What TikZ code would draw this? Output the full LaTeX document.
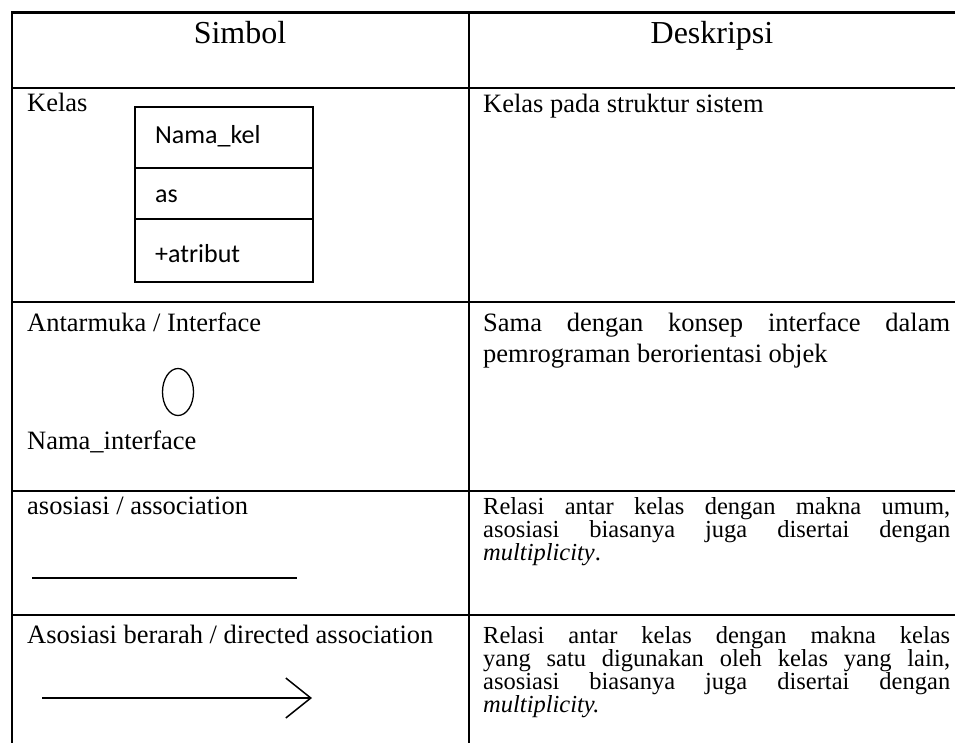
\documentclass[tikz,border=0pt]{standalone}
\usepackage{fontspec}
\setmainfont{Liberation Serif}
\newfontfamily\boxfont{Carlito}
\usetikzlibrary{arrows.meta}

\tikzset{
  rule/.style={line width=2.6pt, line cap=rect},
  headtext/.style={anchor=base, inner sep=0, font=\fontsize{32}{36}\selectfont},
  celltext/.style={anchor=base west, inner sep=0, font=\fontsize{26.5}{30}\selectfont},
  desc/.style={celltext},
  smalldesc/.style={anchor=base west, inner sep=0, font=\fontsize{24.5}{28}\selectfont},
  classcell/.style={draw, line width=1.5pt, anchor=north west, minimum width=178pt, inner sep=0},
  classtext/.style={anchor=base west, inner sep=0, font=\boxfont\fontsize{26}{30}\selectfont},
  symline/.style={line width=1.6pt},
}
\newcommand{\jline}[1]{\makebox[467pt][s]{#1}}

\begin{document}
\begin{tikzpicture}[x=1pt, y=-1pt]
  \useasboundingbox (0,0) rectangle (955,742);

  % table grid
  \draw[rule] (955,12.5) -- (12,12.5) -- (12,742);
  \draw[rule, line width=2.2pt] (469,12.5) -- (469,742);
  \draw[rule] (12,88) -- (955,88);
  \draw[rule] (12,302) -- (955,302);
  \draw[rule] (12,491) -- (955,491);
  \draw[rule, line width=2.2pt] (12,615) -- (955,615);

  % header
  \node[headtext] (hsym) at (240,43) {Simbol};
  \node[headtext] (hdesc) at (712,43) {Deskripsi};

  % row: class
  \node[celltext] (kelas) at (27,111) {Kelas};
  \node[classcell, minimum height=61pt] (cname) at (134,106) {};
  \node[classcell, minimum height=51pt] (cattr) at (134,167) {};
  \node[classcell, minimum height=63pt] (cop) at (134,218) {};
  \node[classtext] (tname) at (155,143) {Nama\_kel};
  \node[classtext] (tattr) at (155,202) {as};
  \node[classtext] (top) at (155,262) {+atribut};
  \node[desc] (d1) at (483,112) {Kelas pada struktur sistem};

  % row: interface
  \node[celltext] (intf) at (27,331) {Antarmuka / Interface};
  \draw[line width=1.3pt] (178,392) ellipse [x radius=15.5, y radius=23.5];
  \node[celltext] (intfname) at (27,449) {Nama\_interface};
  \node[desc] (d2a) at (483,331) {\jline{Sama dengan konsep interface dalam}};
  \node[desc] (d2b) at (483,362) {pemrograman berorientasi objek};

  % row: association
  \node[celltext] (asc) at (27,514) {asosiasi / association};
  \coordinate (ascA) at (32,578);
  \coordinate (ascB) at (297,578);
  \draw[symline] (ascA) -- (ascB);
  \node[smalldesc] (d3a) at (483,514) {\jline{Relasi antar kelas dengan makna umum,}};
  \node[smalldesc] (d3b) at (483,537) {\jline{asosiasi biasanya juga disertai dengan}};
  \node[smalldesc] (d3c) at (483,560) {\textit{multiplicity}.};

  % row: directed association
  \node[celltext] (dasc) at (27,643) {Asosiasi berarah / directed association};
  \coordinate (dascA) at (42,698);
  \coordinate (dascB) at (312,698);
  \draw[symline, -{Straight Barb[length=25pt, width=40pt, line width=1.5pt]}] (dascA) -- (dascB);
  \node[smalldesc] (d4a) at (483,643) {\jline{Relasi antar kelas dengan makna kelas}};
  \node[smalldesc] (d4b) at (483,666) {\jline{yang satu digunakan oleh kelas yang lain,}};
  \node[smalldesc] (d4c) at (483,689) {\jline{asosiasi biasanya juga disertai dengan}};
  \node[smalldesc] (d4d) at (483,712) {\textit{multiplicity.}};
\end{tikzpicture}
\end{document}
